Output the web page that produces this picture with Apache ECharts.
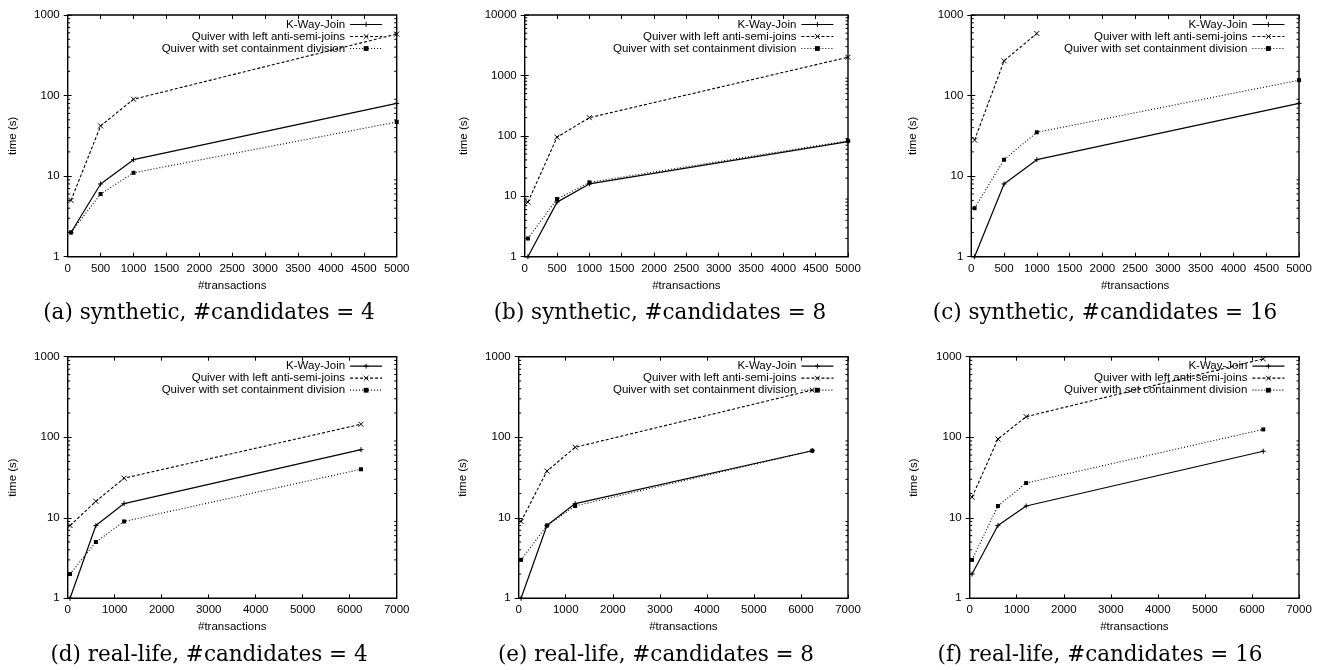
<!DOCTYPE html>
<html>
<head>
<meta charset="utf-8">
<script src="https://cdn.jsdelivr.net/npm/echarts@6/dist/echarts.min.js"></script>
<style>
    html, body {margin: 0; padding: 0; background: #fff;}
    #chart {width: 1326px; height: 670px;}
</style>
</head>
<body>
<div id="chart"></div>
<script>
// 图例名称
var seriesNames = ['K-Way-Join', 'Quiver with left anti-semi-joins', 'Quiver with set containment division'];

// synthetic 数据
var synX = [50, 500, 1000, 5000];
var synK4 = [2, 8, 16, 80];
var synA4 = [5, 42, 90, 580];
var synS4 = [2, 6, 11, 47];
var synK8 = [1, 8, 16, 80];
var synA8 = [8, 95, 200, 2000];
var synS8 = [2, 9, 17, 83];
var synK16 = [1, 8, 16, 80];
var synA16 = [28, 270, 590];
var synS16 = [4, 16, 35, 155];

// real-life 数据
var realX = [50, 600, 1200, 6240];
var realK4 = [1, 8, 15, 70];
var realA4 = [8, 16, 31, 145];
var realS4 = [2, 5, 9, 40];
var realK8 = [1, 8, 15, 68];
var realA8 = [9, 38, 75, 385];
var realS8 = [3, 8, 14, 68];
var realK16 = [2, 8, 14, 67];
var realA16 = [18, 95, 180, 940];
var realS16 = [3, 14, 27, 125];

var captions = [
    '(a) synthetic, #candidates = 4',
    '(b) synthetic, #candidates = 8',
    '(c) synthetic, #candidates = 16',
    '(d) real-life, #candidates = 4',
    '(e) real-life, #candidates = 8',
    '(f) real-life, #candidates = 16'
];
var xMaxes = [5000, 5000, 5000, 7000, 7000, 7000];
var xIntervals = [500, 500, 500, 1000, 1000, 1000];
var yMaxes = [1000, 10000, 1000, 1000, 1000, 1000];
var minorTickValues = [2, 3, 4, 5, 6, 7, 8, 9, 20, 30, 40, 50, 60, 70, 80, 90,
    200, 300, 400, 500, 600, 700, 800, 900, 2000, 3000, 4000, 5000, 6000, 7000, 8000, 9000];

var panels = [
    {x: synX, k: synK4, a: synA4, s: synS4},
    {x: synX, k: synK8, a: synA8, s: synS8},
    {x: synX, k: synK16, a: synA16, s: synS16},
    {x: realX, k: realK4, a: realA4, s: realS4},
    {x: realX, k: realK8, a: realA8, s: realS8},
    {x: realX, k: realK16, a: realA16, s: realS16}
];

// 布局(像素)
var layout = [
    {left: 67.7, right: 396.7, top: 15, height: 241.7, nameGap: 49, cx: 209, cy: 313},
    {left: 524.7, right: 848, top: 15, height: 241.7, nameGap: 55, cx: 660, cy: 313},
    {left: 971.3, right: 1299, top: 15, height: 241.7, nameGap: 52, cx: 1105, cy: 313},
    {left: 67.7, right: 396.7, top: 356.7, height: 241.6, nameGap: 49, cx: 209, cy: 655},
    {left: 518.7, right: 848, top: 356.7, height: 241.6, nameGap: 49.5, cx: 656, cy: 655},
    {left: 969.7, right: 1299, top: 356.7, height: 241.6, nameGap: 50, cx: 1100, cy: 655}
];

var W = 1326;
var sans = 'Liberation Sans';
var fs = 11.5;
var plusPath = 'path://M0,5L10,5M5,0L5,10';
var crossPath = 'path://M0,0L10,10M10,0L0,10';

function zip(xs, ys) {
    var out = [];
    for (var i = 0; i < ys.length; i++) {
        out.push([xs[i], ys[i]]);
    }
    return out;
}

function plainLabel(v) {
    return String(Math.round(v));
}

function minorTicks(xMin, xMax) {
    return function (params, api) {
        var v = api.value(1);
        var pl = api.coord([xMin, v]);
        var pr = api.coord([xMax, v]);
        var st = {stroke: '#000', lineWidth: 1};
        return {
            type: 'group',
            children: [
                {type: 'line', shape: {x1: pl[0], y1: pl[1], x2: pl[0] + 2.5, y2: pl[1]}, style: st},
                {type: 'line', shape: {x1: pr[0], y1: pr[1], x2: pr[0] - 2.5, y2: pr[1]}, style: st}
            ]
        };
    };
}

function buildOption() {
    var option = {
        animation: false,
        backgroundColor: '#fff',
        grid: [], xAxis: [], yAxis: [], legend: [], series: [], graphic: []
    };

    panels.forEach(function (p, i) {
        var L = layout[i];
        option.grid.push({
            left: L.left, top: L.top, width: L.right - L.left, height: L.height,
            show: true, borderColor: '#000', borderWidth: 1.4, backgroundColor: 'transparent'
        });
        // 下方x轴
        option.xAxis.push({
            gridIndex: i, type: 'value', min: 0, max: xMaxes[i], interval: xIntervals[i],
            name: '#transactions', nameLocation: 'middle', nameGap: 23,
            nameTextStyle: {fontFamily: sans, fontSize: fs, color: '#000'},
            axisLine: {show: false},
            axisTick: {inside: true, length: 4, lineStyle: {color: '#000'}},
            axisLabel: {fontFamily: sans, fontSize: fs, color: '#000', margin: 6, formatter: plainLabel},
            splitLine: {show: false}
        });
        // 上方镜像刻度
        option.xAxis.push({
            gridIndex: i, type: 'value', position: 'top', min: 0, max: xMaxes[i], interval: xIntervals[i],
            axisLine: {show: false},
            axisTick: {inside: true, length: 4, lineStyle: {color: '#000'}},
            axisLabel: {show: false},
            splitLine: {show: false}
        });
        option.yAxis.push({
            gridIndex: i, type: 'log', logBase: 10, min: 1, max: yMaxes[i],
            name: 'time (s)', nameLocation: 'middle', nameGap: L.nameGap,
            nameTextStyle: {fontFamily: sans, fontSize: fs, color: '#000'},
            axisLine: {show: false},
            axisTick: {inside: true, length: 4, lineStyle: {color: '#000'}},
            axisLabel: {fontFamily: sans, fontSize: fs, color: '#000', margin: 8, formatter: plainLabel},
            splitLine: {show: false}
        });
        option.yAxis.push({
            gridIndex: i, type: 'log', logBase: 10, min: 1, max: yMaxes[i], position: 'right',
            axisLine: {show: false},
            axisTick: {inside: true, length: 4, lineStyle: {color: '#000'}},
            axisLabel: {show: false},
            splitLine: {show: false}
        });

        option.legend.push({
            data: seriesNames,
            orient: 'vertical', align: 'right',
            right: W - (L.right - 14), top: L.top + 3.5,
            padding: 0, itemGap: 0, itemWidth: 32, itemHeight: 6,
            selectedMode: false,
            lineStyle: {width: 1.2},
            itemStyle: {borderWidth: 1},
            textStyle: {fontFamily: sans, fontSize: fs, lineHeight: 11.3, color: '#000'}
        });

        var xi = i * 2, yi = i * 2;
        option.series.push({
            name: seriesNames[0], type: 'line', xAxisIndex: xi, yAxisIndex: yi,
            data: zip(p.x, p.k),
            symbol: plusPath, symbolSize: 5,
            lineStyle: {color: '#000', width: 1.2, type: 'solid'},
            itemStyle: {color: '#000', borderColor: '#000', borderWidth: 1}
        });
        option.series.push({
            name: seriesNames[1], type: 'line', xAxisIndex: xi, yAxisIndex: yi,
            data: zip(p.x, p.a),
            symbol: crossPath, symbolSize: 5,
            lineStyle: {color: '#000', width: 1.1, type: [3, 2]},
            itemStyle: {color: '#000', borderColor: '#000', borderWidth: 1}
        });
        option.series.push({
            name: seriesNames[2], type: 'line', xAxisIndex: xi, yAxisIndex: yi,
            data: zip(p.x, p.s),
            symbol: 'rect', symbolSize: 4,
            lineStyle: {color: '#000', width: 1.1, type: [1, 2]},
            itemStyle: {color: '#000', borderWidth: 0}
        });
        // 对数轴次刻度
        var ticks = minorTickValues.filter(function (v) { return v < yMaxes[i]; });
        option.series.push({
            type: 'custom', xAxisIndex: xi, yAxisIndex: yi, silent: true,
            renderItem: minorTicks(0, xMaxes[i]),
            data: ticks.map(function (v) { return [0, v]; })
        });

        option.graphic.push({
            type: 'text', x: L.cx, y: L.cy,
            style: {
                text: captions[i], align: 'center', verticalAlign: 'middle',
                fontFamily: 'DejaVu Serif', fontSize: 21.5, fill: '#000'
            }
        });
    });
    return option;
}

var myChart = echarts.init(document.getElementById('chart'));
myChart.setOption(buildOption());
</script>
</body>
</html>
